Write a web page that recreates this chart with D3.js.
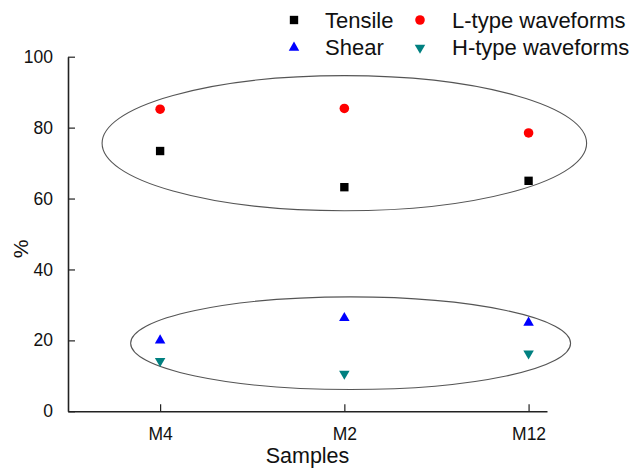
<!DOCTYPE html>
<html>
<head>
<meta charset="utf-8">
<script src="https://cdn.jsdelivr.net/npm/d3@7"></script>
<style>
  body { margin: 0; background: #fff; }
  text { font-family: "Liberation Sans", Arial, sans-serif; fill: #111; }
</style>
</head>
<body>
<svg width="632" height="469"></svg>
<script>
var samples = ['M4', 'M2', 'M12'];
var tensile = [73.4, 63.2, 65.0];
var lType = [85.2, 85.4, 78.5];
var shear = [20.0, 26.3, 25.0];
var hType = [14.2, 10.6, 16.3];
var yTicks = [0, 20, 40, 60, 80, 100];
// circled groups: centre (sample index, %), radii (index units, %)
var groups = [
  {cx: 2.0, cy: 75.6, rx: 1.315, ry: 19.05},
  {cx: 2.034, cy: 19.2, rx: 1.194, ry: 13.07}
];

var svg = d3.select('svg');
var plotL = 68, plotR = 547, plotT = 56.7, plotB = 411.3;

var x = d3.scaleLinear().domain([0.5, 3.1]).range([plotL, plotR]);
var y = d3.scaleLinear().domain([0, 100]).range([plotB, plotT]);

// axes, ticks inside
var yAxis = d3.axisLeft(y).tickValues(yTicks).tickSizeInner(-7).tickSizeOuter(0).tickPadding(15);
var gy = svg.append('g').attr('transform', 'translate(' + plotL + ',0)').call(yAxis);
var xAxis = d3.axisBottom(x).tickValues([1, 2, 3]).tickFormat(function(d){ return samples[d - 1]; })
  .tickSizeInner(-7).tickSizeOuter(0).tickPadding(16);
var gx = svg.append('g').attr('transform', 'translate(0,' + plotB + ')').call(xAxis);

[gx, gy].forEach(function(g){
  g.selectAll('path.domain').attr('stroke', '#222').attr('stroke-width', 1.6);
  g.selectAll('.tick line').attr('stroke', '#222').attr('stroke-width', 1.2);
  g.selectAll('.tick text').attr('font-size', 17.5).attr('fill', '#111')
    .style('font-family', '"Liberation Sans", Arial, sans-serif');
});

svg.append('text').attr('x', (plotL + plotR) / 2).attr('y', 463)
  .attr('text-anchor', 'middle').attr('font-size', 21.5).text('Samples');
svg.append('text').attr('transform', 'translate(28,249) rotate(-90)')
  .attr('text-anchor', 'middle').attr('font-size', 21).text('%');

// ellipses
svg.selectAll('ellipse.grp').data(groups).enter().append('ellipse')
  .attr('class', 'grp')
  .attr('cx', function(d){ return x(d.cx); })
  .attr('cy', function(d){ return y(d.cy); })
  .attr('rx', function(d){ return x(d.cx + d.rx) - x(d.cx); })
  .attr('ry', function(d){ return y(d.cy) - y(d.cy + d.ry); })
  .attr('fill', 'none').attr('stroke', '#555').attr('stroke-width', 1.1);

var symSquare = d3.symbol().type(d3.symbolSquare).size(70);
var symCircle = d3.symbol().type(d3.symbolCircle).size(72);
var symTri = d3.symbol().type(d3.symbolTriangle).size(48);

var series = [
  {name: 'Tensile', vals: tensile, color: '#000000', sym: symSquare, rot: 0},
  {name: 'L-type waveforms', vals: lType, color: '#ff0000', sym: symCircle, rot: 0},
  {name: 'Shear', vals: shear, color: '#0000ff', sym: symTri, rot: 0},
  {name: 'H-type waveforms', vals: hType, color: '#008080', sym: symTri, rot: 180}
];

series.forEach(function(s){
  svg.append('g').selectAll('path').data(s.vals).enter().append('path')
    .attr('d', s.sym())
    .attr('fill', s.color)
    .attr('transform', function(d, i){
      return 'translate(' + x(i + 1) + ',' + y(d) + ') rotate(' + s.rot + ')';
    });
});

// legend
var legendPos = [
  {s: series[0], mx: 294, my: 20, tx: 325, ty: 27.7},
  {s: series[1], mx: 420, my: 20, tx: 452, ty: 27.7},
  {s: series[2], mx: 294, my: 47.7, tx: 325, ty: 55},
  {s: series[3], mx: 420, my: 47.7, tx: 452, ty: 55}
];
var lg = svg.append('g');
legendPos.forEach(function(l){
  lg.append('path').attr('d', l.s.sym()).attr('fill', l.s.color)
    .attr('transform', 'translate(' + l.mx + ',' + l.my + ') rotate(' + l.s.rot + ')');
  lg.append('text').attr('x', l.tx).attr('y', l.ty).attr('font-size', 22).text(l.s.name);
});
</script>
</body>
</html>
